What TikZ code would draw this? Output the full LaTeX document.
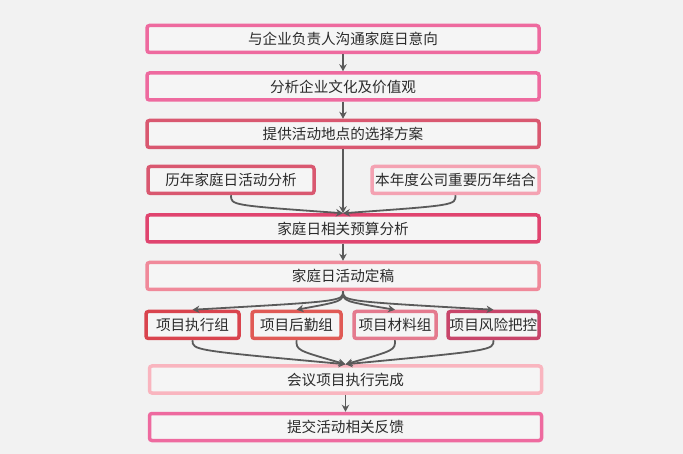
\documentclass[tikz,border=0pt]{standalone}
\usepackage{fontspec}
\newfontfamily\cjk{Noto Sans CJK SC}
\usepackage{tikz}
\usetikzlibrary{arrows.meta, positioning}
\definecolor{bgGray}{HTML}{F2F2F2}
\definecolor{boxFill}{HTML}{F5F5F5}
\definecolor{textGray}{HTML}{2B2B2B}
\definecolor{lineGray}{HTML}{5A5A5A}
\definecolor{pinkA}{HTML}{EE6A9F}
\definecolor{roseA}{HTML}{D95870}
\definecolor{crimson}{HTML}{E0446F}
\definecolor{salmon}{HTML}{F0899A}
\definecolor{lightPink}{HTML}{F4A2B2}
\definecolor{paleRose}{HTML}{F9B5BF}
\definecolor{redA}{HTML}{D9444E}
\definecolor{redB}{HTML}{E05A55}
\definecolor{roseB}{HTML}{E47A8E}
\definecolor{berry}{HTML}{C8456A}
\tikzstyle{box} = [draw, line width=3.5pt, rounded corners=2.5pt, fill=boxFill, inner sep=0pt, minimum height=27pt, text=textGray, font=\cjk\fontsize{14.6}{16}\selectfont]
\tikzstyle{wide} = [box, minimum width=392pt]
\tikzstyle{arrow} = [line width=1.8pt, draw=lineGray, ->, >={Stealth[length=7pt,width=7.5pt]}]

\begin{document}
\begin{tikzpicture}[x=1pt, y=-1pt, node distance=17pt]
\fill[bgGray] (0,0) rectangle (683,454);
\useasboundingbox (0,0) rectangle (683,454);

% Nodes
\node (talk) [wide, draw=pinkA] at (343,39) {与企业负责人沟通家庭日意向};
\node (culture) [wide, draw=pinkA, below=of talk] {分析企业文化及价值观};
\node (venue) [wide, draw=roseA, below=of culture] {提供活动地点的选择方案};
\node (budget) [wide, draw=crimson, below=64pt of venue] {家庭日相关预算分析};
\node (final) [wide, draw=salmon, below=of budget] {家庭日活动定稿};
\node (done) [wide, draw=paleRose, below=73pt of final, xshift=2.5pt] {会议项目执行完成};
\node (feedback) [wide, draw=pinkA, below=of done] {提交活动相关反馈};

\node (history) [box, draw=roseA, minimum width=166pt] at (231,180) {历年家庭日活动分析};
\node (thisyear) [box, draw=lightPink, minimum width=167pt] at (455.5,180) {本年度公司重要历年结合};

\node (exec) [box, draw=redA, minimum width=93pt] at (192.5,325) {项目执行组};
\node (logistics) [box, draw=redB, minimum width=89pt] at (296.5,325) {项目后勤组};
\node (material) [box, draw=roseB, minimum width=82pt] at (395,325) {项目材料组};
\node (risk) [box, draw=berry, minimum width=91pt] at (493.5,325) {项目风险把控};

% Arrows
\draw [arrow] (talk) -- (culture);
\draw [arrow] (culture) -- (venue);
\draw [arrow] (venue) -- (budget);
\draw [arrow] (history.south) .. controls +(0,10) .. (budget.north);
\draw [arrow] (thisyear.south) .. controls +(0,10) .. (budget.north);
\draw [arrow] (budget) -- (final);
\foreach \grp in {exec, logistics, material, risk} {
  \draw [arrow] (final.south) .. controls +(0,10) .. (\grp.north);
  \draw [arrow] (\grp.south) .. controls +(0,10) .. (done.north);
}
\draw [arrow] (done) -- (feedback);

\end{tikzpicture}
\end{document}
